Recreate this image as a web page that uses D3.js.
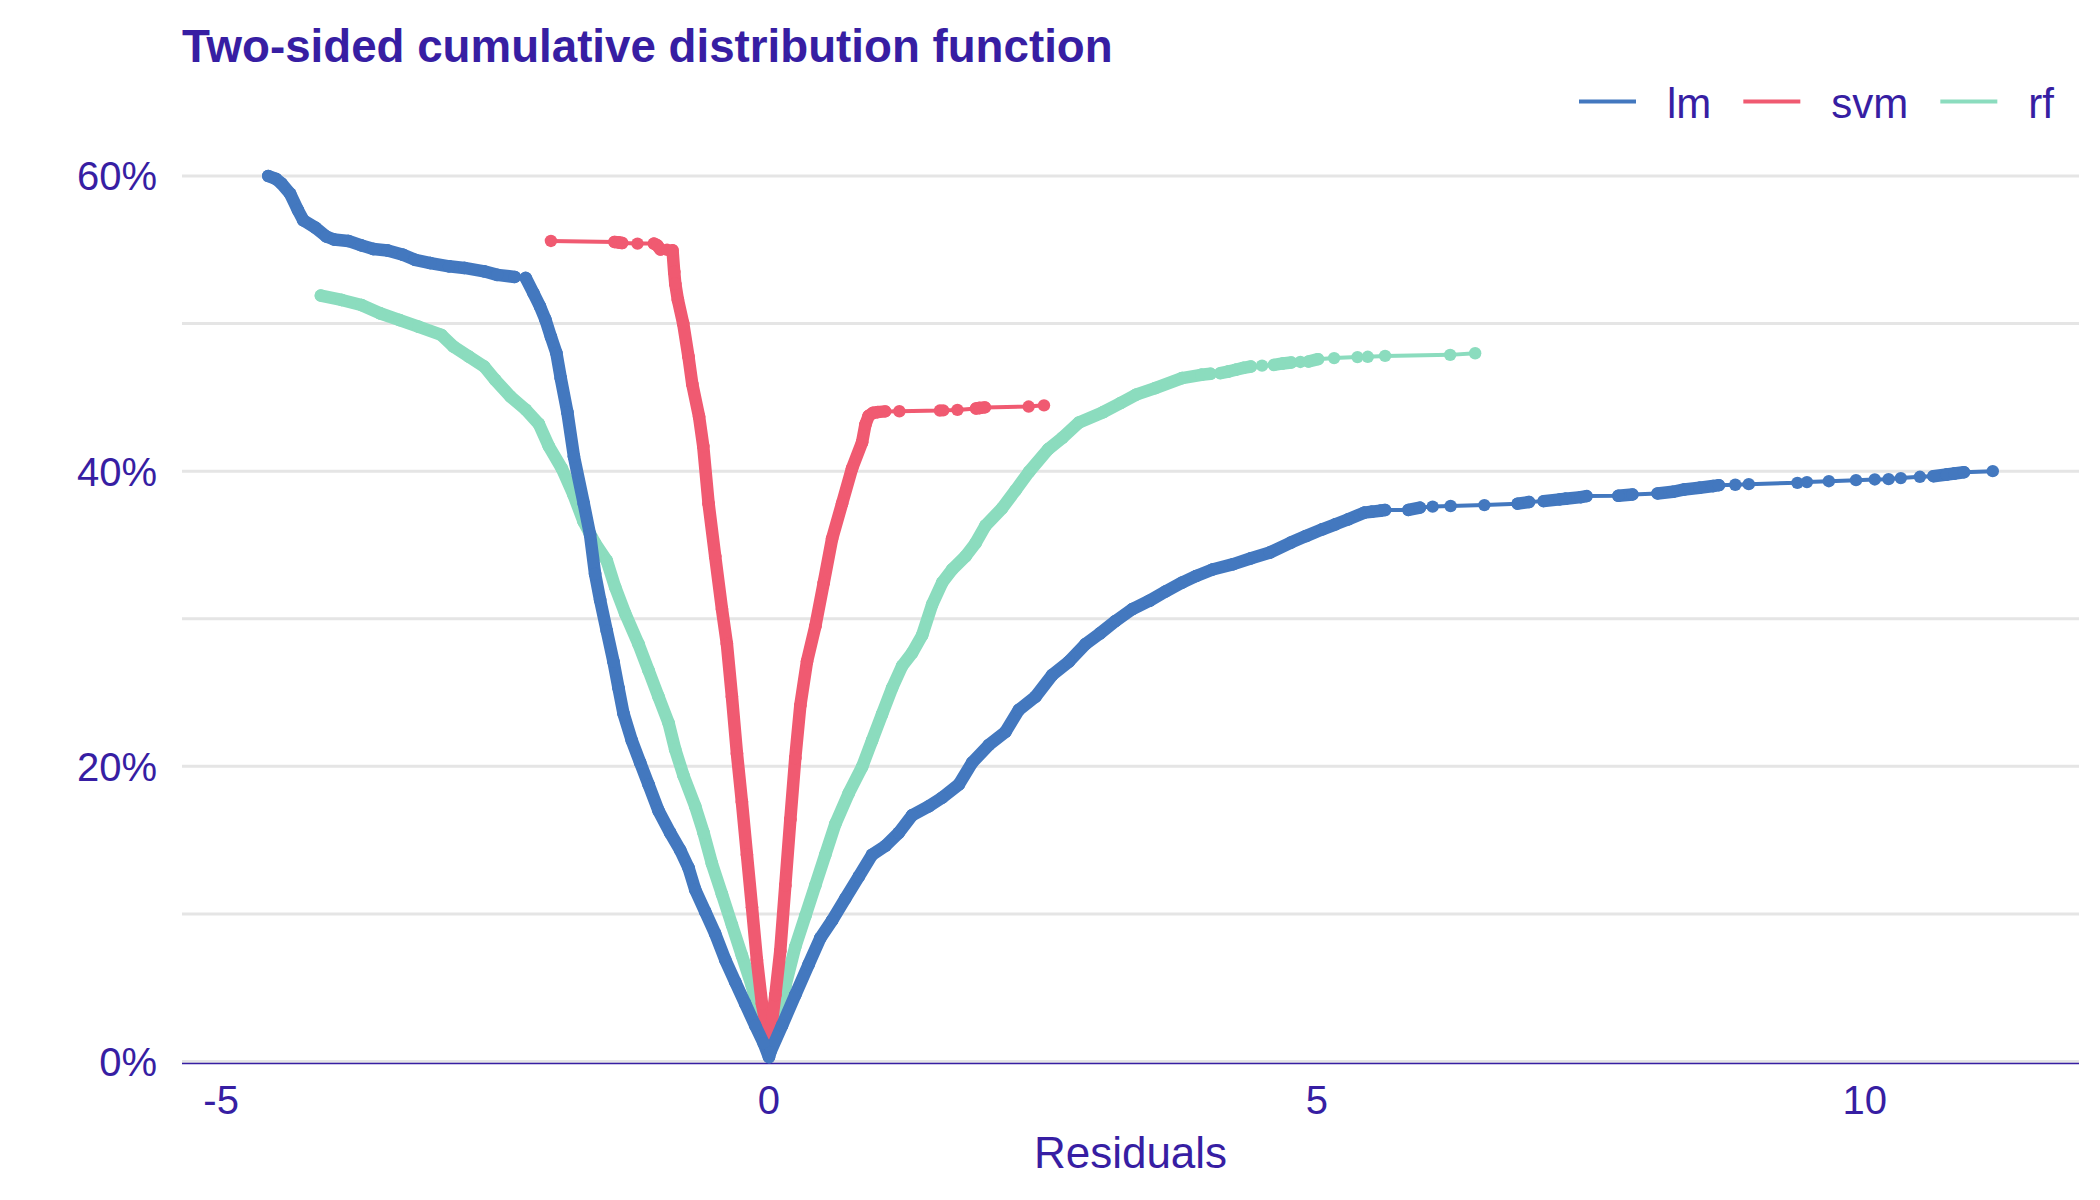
<!DOCTYPE html>
<html>
<head>
<meta charset="utf-8">
<script src="https://cdn.jsdelivr.net/npm/d3@7/dist/d3.min.js"></script>
<style>
  body { margin: 0; background: #fff; }
  text { font-family: "Liberation Sans", Arial, sans-serif; fill: #371ea3; }
</style>
</head>
<body>
<svg id="chart"></svg>
<script>
// residual, two-sided cumulative share
var models = ['lm', 'svm', 'rf'];
var modelColors = ['#4378bf', '#f05a71', '#8bdcbe'];

var lmPoints = [
  [-4.57, 0.600], [-4.50, 0.598], [-4.45, 0.595], [-4.37, 0.588], [-4.30, 0.577],
  [-4.25, 0.570], [-4.14, 0.565], [-4.04, 0.559], [-3.97, 0.557], [-3.84, 0.556],
  [-3.72, 0.553], [-3.61, 0.5505], [-3.48, 0.5495], [-3.34, 0.5466], [-3.23, 0.5432],
  [-3.09, 0.541], [-2.92, 0.5388], [-2.78, 0.5377], [-2.60, 0.5354], [-2.48, 0.533],
  [-2.32, 0.5316], [-2.22, 0.531], [-2.15, 0.5207], [-2.09, 0.5117], [-2.04, 0.5027],
  [-1.99, 0.491], [-1.94, 0.480], [-1.90, 0.463], [-1.84, 0.440], [-1.78, 0.410],
  [-1.69, 0.378], [-1.633, 0.357], [-1.587, 0.3304], [-1.541, 0.3127], [-1.48, 0.2917],
  [-1.419, 0.271], [-1.373, 0.253], [-1.328, 0.2359], [-1.252, 0.2175], [-1.176, 0.2026],
  [-1.099, 0.1877], [-1.008, 0.1699], [-0.902, 0.155], [-0.81, 0.1432], [-0.734, 0.1312],
  [-0.673, 0.1164], [-0.582, 0.1015], [-0.491, 0.0866], [-0.399, 0.0689], [-0.308, 0.054],
  [-0.217, 0.0392], [-0.125, 0.0243], [-0.048, 0.0123], [0.0, 0.003],
  [0.012, 0.0063], [0.119, 0.0243], [0.24, 0.045], [0.362, 0.0658], [0.469, 0.0837],
  [0.576, 0.0956], [0.697, 0.1104], [0.82, 0.1253], [0.941, 0.1401], [1.063, 0.1461],
  [1.185, 0.155], [1.307, 0.1669], [1.459, 0.1729], [1.581, 0.1788], [1.733, 0.1877],
  [1.855, 0.2026], [2.007, 0.2145], [2.159, 0.2234], [2.281, 0.2383], [2.433, 0.2472],
  [2.586, 0.262], [2.738, 0.271], [2.89, 0.2829], [3.02, 0.290], [3.164, 0.2985],
  [3.317, 0.3066], [3.473, 0.3122], [3.62, 0.3185], [3.77, 0.3245], [3.90, 0.329],
  [4.048, 0.3334], [4.238, 0.337], [4.40, 0.341], [4.572, 0.3449], [4.763, 0.3516],
  [4.90, 0.356], [5.05, 0.3606], [5.17, 0.364], [5.288, 0.3674], [5.432, 0.3719],
  [5.50, 0.3725], [5.58, 0.3732], [5.623, 0.3737], [5.836, 0.3737], [5.941, 0.3753],
  [6.057, 0.376], [6.221, 0.3764], [6.529, 0.377], [6.833, 0.378], [6.937, 0.3791],
  [7.07, 0.3797], [7.217, 0.3809], [7.269, 0.3813], [7.41, 0.3824], [7.462, 0.3831],
  [7.752, 0.3833], [7.881, 0.3842], [8.109, 0.3849], [8.249, 0.386], [8.354, 0.3876],
  [8.494, 0.3888], [8.616, 0.3899], [8.669, 0.3905], [8.819, 0.3908], [8.942, 0.3912],
  [9.386, 0.3921], [9.473, 0.3926], [9.673, 0.3932], [9.921, 0.3939], [10.092, 0.3944],
  [10.218, 0.3946], [10.33, 0.3953], [10.504, 0.3962], [10.627, 0.3966], [10.749, 0.3977],
  [10.819, 0.3984], [10.906, 0.3993], [11.169, 0.400]
];

var svmPoints = [
  [-1.99, 0.556], [-1.41, 0.5553], [-1.37, 0.555], [-1.34, 0.5546], [-1.20, 0.5542],
  [-1.05, 0.5542], [-1.02, 0.553], [-0.99, 0.5502], [-0.93, 0.550], [-0.88, 0.5497],
  [-0.865, 0.535], [-0.855, 0.527], [-0.831, 0.516], [-0.783, 0.5002], [-0.735, 0.4777],
  [-0.70, 0.459], [-0.638, 0.437], [-0.60, 0.417], [-0.551, 0.378], [-0.491, 0.3424],
  [-0.429, 0.3066], [-0.384, 0.283], [-0.338, 0.2472], [-0.292, 0.2085], [-0.247, 0.1759],
  [-0.201, 0.1401], [-0.155, 0.1045], [-0.11, 0.0688], [-0.064, 0.0391], [-0.018, 0.0212],
  [0.0, 0.014],
  [0.012, 0.018], [0.058, 0.045], [0.103, 0.0748], [0.149, 0.1193], [0.195, 0.164],
  [0.24, 0.2056], [0.286, 0.2412], [0.347, 0.271], [0.423, 0.2948], [0.50, 0.3245],
  [0.576, 0.3542], [0.667, 0.378], [0.758, 0.4018], [0.85, 0.4196], [0.88, 0.4315],
  [0.91, 0.4375], [0.95, 0.4395], [0.99, 0.440], [1.06, 0.4405], [1.19, 0.4406],
  [1.56, 0.4411], [1.59, 0.4412], [1.72, 0.4415], [1.89, 0.4425], [1.92, 0.4428],
  [1.97, 0.4432], [2.37, 0.4438], [2.51, 0.4446]
];

var rfPoints = [
  [-4.09, 0.519], [-3.90, 0.516], [-3.72, 0.5126], [-3.55, 0.507], [-3.37, 0.5024],
  [-3.20, 0.4979], [-2.99, 0.4923], [-2.88, 0.4844], [-2.74, 0.4777], [-2.60, 0.471],
  [-2.50, 0.462], [-2.36, 0.4506], [-2.22, 0.4417], [-2.10, 0.432], [-2.01, 0.417],
  [-1.89, 0.4018], [-1.784, 0.384], [-1.693, 0.366], [-1.587, 0.3512], [-1.48, 0.3393],
  [-1.404, 0.3215], [-1.313, 0.3037], [-1.191, 0.2829], [-1.099, 0.265], [-1.008, 0.2472],
  [-0.916, 0.2293], [-0.856, 0.2115], [-0.78, 0.1937], [-0.673, 0.1729], [-0.597, 0.155],
  [-0.521, 0.1342], [-0.429, 0.1134], [-0.338, 0.0926], [-0.247, 0.0718], [-0.155, 0.051],
  [-0.094, 0.0331], [-0.048, 0.0212], [-0.01, 0.0123],
  [0.01, 0.010], [0.058, 0.0243], [0.149, 0.051], [0.24, 0.0777], [0.332, 0.0986],
  [0.423, 0.1193], [0.514, 0.1401], [0.606, 0.161], [0.728, 0.1818], [0.85, 0.1996],
  [0.941, 0.2175], [1.032, 0.2353], [1.124, 0.2531], [1.215, 0.268], [1.307, 0.2769],
  [1.398, 0.2888], [1.489, 0.3096], [1.581, 0.3245], [1.672, 0.3334], [1.794, 0.3423],
  [1.885, 0.3512], [1.976, 0.3631], [2.129, 0.375], [2.25, 0.387], [2.373, 0.3995],
  [2.55, 0.415], [2.677, 0.4226], [2.83, 0.433], [3.05, 0.440], [3.21, 0.4462],
  [3.35, 0.4518], [3.525, 0.4563], [3.77, 0.4631], [3.945, 0.4653], [4.03, 0.466],
  [4.12, 0.4664], [4.19, 0.4675], [4.259, 0.4687], [4.33, 0.470], [4.399, 0.4709],
  [4.50, 0.4715], [4.609, 0.472], [4.69, 0.473], [4.766, 0.4736], [4.85, 0.474],
  [4.924, 0.4743], [5.011, 0.4759], [5.158, 0.4766], [5.371, 0.4773], [5.465, 0.4775],
  [5.623, 0.4781], [6.217, 0.4788], [6.445, 0.4799]
];

var yGridValues = [0, 0.1, 0.2, 0.3, 0.4, 0.5, 0.6];
var yTickValues = [0, 0.2, 0.4, 0.6];
var xTickValues = [-5, 0, 5, 10];

var width = 2100, height = 1200;
var panel = {left: 182, right: 2079, top: 176, bottom: 1061.5};

var seriesPoints = [lmPoints, svmPoints, rfPoints];

var allX = [].concat(lmPoints, svmPoints, rfPoints).map(d => d[0]);
var xMin = d3.min(allX), xMax = d3.max(allX);
var xPad = (xMax - xMin) * 0.05;

var x = d3.scaleLinear()
    .domain([xMin - xPad, xMax + xPad])
    .range([panel.left, panel.right]);

var y = d3.scaleLinear()
    .domain([0, 0.6])
    .range([panel.bottom, panel.top]);

var svg = d3.select('#chart')
    .attr('width', width)
    .attr('height', height);

svg.append('rect')
    .attr('width', width)
    .attr('height', height)
    .attr('fill', '#ffffff');

// horizontal grid
svg.append('g')
  .selectAll('line')
  .data(yGridValues)
  .enter()
  .append('line')
    .attr('x1', panel.left)
    .attr('x2', panel.right)
    .attr('y1', d => y(d))
    .attr('y2', d => y(d))
    .attr('stroke', '#e5e5e5')
    .attr('stroke-width', 3);

// x axis line
svg.append('line')
    .attr('x1', panel.left)
    .attr('x2', panel.right)
    .attr('y1', y(0) + 2)
    .attr('y2', y(0) + 2)
    .attr('stroke', '#371ea3')
    .attr('stroke-width', 1.5);

svg.append('g')
  .selectAll('text')
  .data(yTickValues)
  .enter()
  .append('text')
    .attr('x', 157)
    .attr('y', d => y(d))
    .attr('dy', '0.36em')
    .style('text-anchor', 'end')
    .style('font-size', '40px')
    .text(d => d3.format('.0%')(d));

svg.append('g')
  .selectAll('text')
  .data(xTickValues)
  .enter()
  .append('text')
    .attr('x', d => x(d))
    .attr('y', 1114)
    .style('text-anchor', 'middle')
    .style('font-size', '40px')
    .text(d => d);

svg.append('text')
    .attr('x', (panel.left + panel.right) / 2)
    .attr('y', 1168)
    .style('text-anchor', 'middle')
    .style('font-size', '44px')
    .text('Residuals');

svg.append('text')
    .attr('x', panel.left)
    .attr('y', 61.5)
    .style('font-size', '45.7px')
    .style('font-weight', 'bold')
    .text('Two-sided cumulative distribution function');

// curves: rf at the bottom, lm on top
var line = d3.line()
    .x(d => x(d[0]))
    .y(d => y(d[1]));

// a segment counts as crowded when it climbs: many observations lie on it,
// so in the original the markers merge into one solid band
function crowded(p) {
  var dx = x(p[1][0]) - x(p[0][0]);
  var dy = Math.abs(y(p[1][1]) - y(p[0][1]));
  return dy > 3.7 || dy / Math.hypot(dx, dy) > 0.09;
}

[2, 1, 0].forEach(function(i) {
  var pts = seriesPoints[i];
  var g = svg.append('g').attr('class', 'series-' + models[i]);

  g.append('path')
      .datum(pts)
      .attr('fill', 'none')
      .attr('stroke', modelColors[i])
      .attr('stroke-width', 4)
      .attr('d', line);

  g.selectAll('.band')
    .data(d3.pairs(pts).filter(crowded))
    .enter()
    .append('line')
      .classed('band', true)
      .attr('x1', d => x(d[0][0]))
      .attr('y1', d => y(d[0][1]))
      .attr('x2', d => x(d[1][0]))
      .attr('y2', d => y(d[1][1]))
      .attr('stroke', modelColors[i])
      .attr('stroke-width', 12.5)
      .attr('stroke-linecap', 'round');

  g.selectAll('circle')
    .data(pts)
    .enter()
    .append('circle')
      .attr('cx', d => x(d[0]))
      .attr('cy', d => y(d[1]))
      .attr('r', 6.2)
      .attr('fill', modelColors[i]);
});

// legend, top right
var legend = svg.append('g');
var lx = 1579;
models.forEach(function(m, i) {
  legend.append('line')
      .attr('x1', lx)
      .attr('x2', lx + 57)
      .attr('y1', 101.5)
      .attr('y2', 101.5)
      .attr('stroke', modelColors[i])
      .attr('stroke-width', 4.2);
  var t = legend.append('text')
      .attr('x', lx + 88)
      .attr('y', 117.5)
      .style('font-size', '42px')
      .text(m);
  lx += 88 + t.node().getComputedTextLength() + 32;
});
</script>
</body>
</html>
